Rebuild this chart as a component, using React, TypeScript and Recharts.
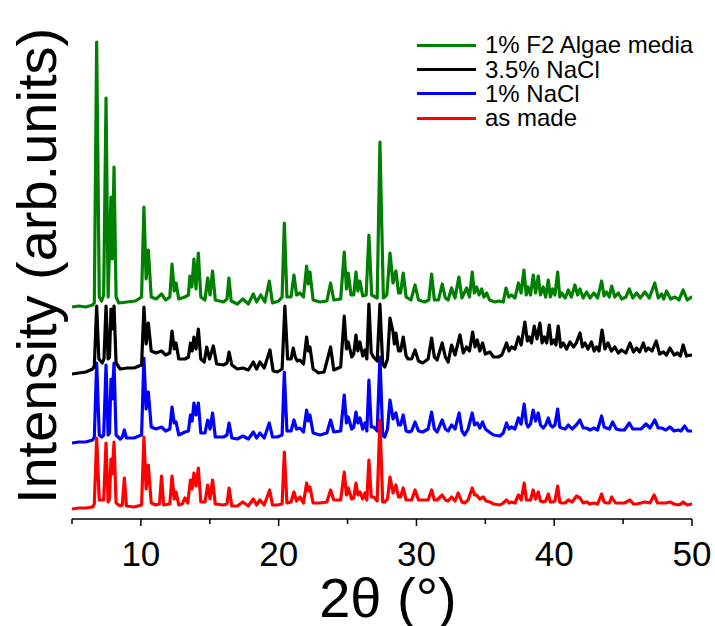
import React from "react";
import { LineChart, Line, XAxis, YAxis, Label } from "recharts";

// 2θ (degrees) vs intensity (arb. units)
const AS_MADE: [number, number][] = [
  [5.0,10],[5.5,11],[6.0,11],[6.5,12],[6.62,15],[6.79,81],[6.98,19],[7.3,19],[7.47,76],[7.62,17],[7.72,20],[7.83,60],[7.92,45],[8.05,77],[8.2,16],[8.5,13],[8.65,14],[8.8,41],[8.95,13],[9.5,12],
  [10.05,14],[10.22,82],[10.38,30],[10.54,54],[10.75,16],[11.1,14],[11.35,15],[11.5,43],[11.65,14],[12.1,15],[12.26,43],[12.42,20],[12.55,27],[12.75,14],[13.0,15],[13.2,21],[13.4,16],[13.6,39],[13.72,30],[13.85,46],[14.0,33],[14.17,51],[14.35,17],[14.65,17],[14.85,34],[15.02,20],[15.2,39],[15.4,15],
  [16.0,14],[16.25,15],[16.4,31],[16.6,13],[17.0,13],[17.4,17],[17.8,13],[18.16,20],[18.4,14],[18.64,19],[18.95,14],[19.35,29],[19.55,14],[19.9,14],[20.25,15],[20.41,67],[20.6,16],[20.9,17],[21.11,27],[21.3,18],[21.55,22],[21.8,16],[22.03,36],[22.15,28],[22.27,32],[22.5,16],[23.0,16],[23.5,17],[23.77,29],[24.0,19],[24.5,19],
  [24.76,47],[24.92,24],[25.05,31],[25.3,20],[25.45,21],[25.61,36],[25.75,24],[25.9,27],[26.1,20],[26.26,26],[26.4,19],[26.55,59],[26.72,22],[26.9,22],[27.15,18],[27.35,99],[27.55,17],[27.7,17],[27.9,20],[28.08,42],[28.3,26],[28.51,34],[28.7,22],[28.85,22],[29.04,31],[29.25,19],[29.45,19],[29.65,19],[29.9,29],[30.15,19],[30.45,19],[30.85,19],
  [31.1,29],[31.3,19],[31.5,19],[31.87,24],[32.1,19],[32.3,18],[32.55,22],[32.8,18],[33.03,26],[33.3,17],[33.5,16],[33.75,19],[34.05,31],[34.22,24],[34.37,24],[34.6,20],[34.85,22],[35.05,18],[35.33,17],[35.6,15],[36.06,14],[36.3,16],[36.54,19],[36.72,16],[36.9,17],[37.15,16],[37.4,24],[37.6,19],[37.82,36],[37.98,19],
  [38.1,19],[38.28,19],[38.47,29],[38.65,20],[38.84,27],[39.0,18],[39.2,17],[39.38,18],[39.57,25],[39.72,17],[39.88,17],[40.05,18],[40.25,33],[40.4,17],[40.54,16],[40.8,16],[41.02,19],[41.3,17],[41.62,23],[41.87,21],[42.1,16],[42.35,17],[42.6,15],[42.88,16],[43.15,15],[43.44,25],[43.62,17],[43.8,16],[44.0,16],[44.17,22],
  [44.45,16],[44.77,16],[45.1,16],[45.5,19],[45.75,15],[45.98,15],[46.3,16],[46.58,17],[46.95,16],[47.25,24],[47.5,16],[47.8,16],[48.1,16],[48.4,17],[48.7,15],[49.0,14],[49.2,15],[49.36,17],[49.65,14],[49.97,15],[50.0,15],
];

const NACL_1: [number, number][] = [
  [5.0,6],[5.5,7],[6.0,7],[6.5,9],[6.62,12],[6.79,86],[6.98,14],[7.15,12],[7.3,14],[7.47,84],[7.62,14],[7.72,16],[7.83,70],[7.92,50],[8.05,86],[8.2,14],[8.5,10],[8.65,12],[8.8,19],[8.95,11],[9.5,11],
  [10.05,14],[10.22,91],[10.38,40],[10.54,57],[10.75,22],[11.1,20],[11.5,22],[11.8,18],[12.1,20],[12.26,42],[12.42,26],[12.55,27],[12.75,14],[13.2,17],[13.45,18],[13.6,34],[13.72,28],[13.85,46],[14.0,34],[14.17,46],[14.35,16],[14.65,16],[14.85,29],[15.02,20],[15.2,36],[15.4,12],
  [16.0,12],[16.25,14],[16.4,26],[16.6,11],[17.0,10],[17.4,13],[17.8,10],[18.16,17],[18.4,11],[18.64,16],[18.95,11],[19.32,26],[19.55,12],[19.9,12],[20.25,14],[20.41,77],[20.6,18],[20.9,18],[21.11,29],[21.3,20],[21.55,21],[21.8,17],[22.03,39],[22.15,28],[22.27,34],[22.5,16],[23.0,14],[23.5,16],[23.77,29],[24.0,17],[24.5,18],
  [24.76,54],[24.92,26],[25.05,32],[25.3,20],[25.45,22],[25.61,37],[25.75,26],[25.9,31],[26.1,20],[26.26,26],[26.4,18],[26.55,69],[26.72,22],[26.9,22],[27.15,18],[27.35,92],[27.55,14],[27.7,12],[27.9,20],[28.08,49],[28.3,30],[28.51,36],[28.7,24],[28.85,24],[29.04,34],[29.25,18],[29.45,17],[29.65,18],[29.9,27],[30.15,18],[30.45,17],[30.85,20],
  [31.1,37],[31.3,20],[31.5,17],[31.87,29],[32.1,20],[32.3,18],[32.55,24],[32.8,20],[33.1,36],[33.3,18],[33.5,14],[33.75,20],[34.05,36],[34.22,24],[34.42,26],[34.6,21],[34.8,27],[35.0,20],[35.28,17],[35.6,14],[36.06,13],[36.3,16],[36.54,26],[36.72,20],[36.9,22],[37.15,20],[37.4,31],[37.6,25],[37.82,45],[37.98,26],
  [38.1,22],[38.28,25],[38.47,39],[38.65,28],[38.84,36],[39.0,24],[39.2,21],[39.38,24],[39.57,31],[39.72,24],[39.88,22],[40.05,24],[40.25,40],[40.4,22],[40.54,21],[40.8,20],[41.02,24],[41.3,20],[41.6,24],[41.87,29],[42.1,21],[42.35,21],[42.6,19],[42.88,21],[43.15,19],[43.44,33],[43.62,22],[43.8,21],[44.0,20],[44.24,27],
  [44.5,20],[44.77,19],[45.1,19],[45.45,26],[45.7,20],[45.98,20],[46.3,20],[46.66,25],[46.95,21],[47.3,29],[47.55,21],[47.8,21],[48.1,19],[48.4,22],[48.7,18],[49.0,19],[49.2,18],[49.47,23],[49.7,18],[49.97,18],[50.0,19],
];

const NACL_35: [number, number][] = [
  [5.0,5],[5.5,6],[6.0,7],[6.5,10],[6.62,13],[6.79,73],[6.95,20],[7.2,16],[7.32,20],[7.47,73],[7.62,20],[7.72,22],[7.83,70],[7.92,50],[8.05,73],[8.2,16],[8.5,10],[9.0,11],[9.5,11],
  [10.05,14],[10.22,72],[10.38,35],[10.54,56],[10.75,28],[11.1,26],[11.5,28],[11.8,24],[12.1,26],[12.26,48],[12.42,30],[12.55,36],[12.75,20],[13.2,20],[13.45,22],[13.6,36],[13.72,28],[13.85,42],[14.0,30],[14.17,50],[14.35,20],[14.6,17],[14.78,32],[14.98,20],[15.26,33],[15.5,15],
  [16.0,14],[16.25,16],[16.4,27],[16.6,14],[17.0,10],[17.4,11],[17.8,9],[18.16,17],[18.4,10],[18.64,17],[18.95,11],[19.37,29],[19.6,8],[19.9,7],[20.25,10],[20.45,73],[20.65,20],[20.9,20],[21.06,31],[21.2,22],[21.35,18],[21.55,19],[21.8,15],[22.03,42],[22.15,28],[22.27,32],[22.5,10],[22.9,6],[23.3,7],[23.77,32],[24.0,9],[24.5,12],
  [24.76,63],[24.92,30],[25.05,37],[25.3,22],[25.45,25],[25.61,44],[25.75,28],[25.9,37],[26.1,23],[26.26,29],[26.4,20],[26.55,75],[26.72,26],[26.88,22],[27.15,18],[27.35,75],[27.55,15],[27.7,12],[27.9,20],[28.08,61],[28.3,47],[28.4,35],[28.51,46],[28.7,28],[28.85,28],[29.04,42],[29.25,23],[29.4,20],[29.65,20],[29.9,29],[30.15,18],[30.45,16],[30.85,20],
  [31.1,41],[31.3,22],[31.5,19],[31.87,36],[32.1,22],[32.3,17],[32.55,34],[32.8,24],[33.16,44],[33.4,26],[33.64,32],[33.85,28],[34.08,47],[34.25,32],[34.42,39],[34.6,28],[34.8,36],[35.0,25],[35.33,27],[35.6,22],[35.94,22],[36.2,24],[36.54,36],[36.72,28],[36.9,32],[37.15,30],[37.4,42],[37.6,34],[37.87,57],[38.05,38],
  [38.19,42],[38.35,36],[38.55,53],[38.75,40],[38.96,56],[39.12,36],[39.28,42],[39.45,36],[39.64,54],[39.8,35],[39.98,39],[40.12,34],[40.29,53],[40.47,32],[40.66,36],[40.9,30],[41.14,37],[41.4,32],[41.6,36],[41.87,46],[42.05,32],[42.23,36],[42.45,30],[42.7,37],[42.9,28],[43.07,32],[43.25,28],[43.47,49],[43.68,30],[43.9,36],
  [44.15,28],[44.4,32],[44.65,26],[44.88,29],[45.2,26],[45.5,36],[45.75,27],[45.98,31],[46.2,27],[46.47,36],[46.65,28],[46.83,31],[47.1,28],[47.4,38],[47.65,25],[47.93,27],[48.15,24],[48.4,31],[48.7,24],[48.95,26],[49.15,23],[49.36,34],[49.6,23],[49.9,24],[50.0,23],
];

const F2_ALGAE: [number, number][] = [
  [5.0,7],[5.5,8],[6.0,7],[6.5,9],[6.62,11],[6.79,272],[6.98,17],[7.15,13],[7.3,19],[7.47,216],[7.62,17],[7.83,117],[7.92,55],[8.05,147],[8.2,17],[8.4,11],[9.0,12],[9.6,13],
  [10.05,17],[10.22,107],[10.38,35],[10.54,64],[10.75,17],[11.1,15],[11.5,20],[11.8,14],[12.1,17],[12.26,50],[12.42,23],[12.55,31],[12.75,15],[13.2,17],[13.45,19],[13.56,38],[13.7,27],[13.85,55],[14.0,25],[14.17,61],[14.35,17],[14.65,14],[14.85,36],[15.02,19],[15.2,43],[15.4,14],
  [16.0,12],[16.25,15],[16.39,36],[16.55,13],[17.0,10],[17.4,15],[17.8,10],[18.16,20],[18.4,12],[18.7,19],[19.0,12],[19.32,33],[19.55,11],[20.0,13],[20.25,17],[20.41,91],[20.6,17],[20.9,17],[21.11,39],[21.3,19],[21.55,21],[21.8,17],[22.03,48],[22.15,30],[22.27,42],[22.5,14],[23.0,12],[23.5,13],[23.77,31],[24.0,14],[24.5,15],
  [24.76,62],[24.92,25],[25.05,41],[25.25,19],[25.45,19],[25.61,42],[25.75,23],[25.9,33],[26.1,18],[26.35,19],[26.55,79],[26.75,19],[27.15,16],[27.35,172],[27.6,16],[27.85,19],[28.08,61],[28.3,31],[28.51,43],[28.7,21],[28.85,21],[29.04,41],[29.25,17],[29.6,14],[29.9,29],[30.15,14],[30.6,12],[30.9,14],
  [31.1,40],[31.3,14],[31.6,14],[31.87,30],[32.1,16],[32.3,14],[32.55,26],[32.8,16],[33.08,37],[33.3,16],[33.64,26],[33.85,17],[34.05,42],[34.2,21],[34.37,27],[34.55,19],[34.73,25],[34.9,17],[35.1,21],[35.3,14],[35.7,12],[36.0,13],[36.3,12],[36.5,26],[36.7,17],[36.9,19],[37.15,16],[37.4,31],[37.6,21],[37.8,44],[37.97,19],
  [38.1,27],[38.28,19],[38.48,39],[38.65,21],[38.84,38],[39.0,19],[39.2,27],[39.38,17],[39.57,34],[39.72,17],[39.88,25],[40.05,19],[40.25,42],[40.4,17],[40.54,21],[40.8,16],[41.02,24],[41.25,17],[41.5,29],[41.7,19],[41.87,25],[42.1,16],[42.35,22],[42.6,16],[42.88,21],[43.15,16],[43.44,33],[43.62,18],[43.8,22],[44.0,17],[44.17,28],
  [44.4,17],[44.65,21],[44.9,15],[45.2,17],[45.45,25],[45.7,16],[45.98,21],[46.25,16],[46.58,22],[46.9,16],[47.3,31],[47.55,16],[47.79,20],[47.95,15],[48.15,23],[48.45,15],[48.76,17],[49.05,14],[49.36,24],[49.65,14],[49.97,17],[50.0,17],
];

const X_TICKS = [5, 10, 15, 20, 25, 30, 35, 40, 45, 50];

// vertical stacking offsets used to separate the patterns
const SERIES = [
  { key: "nacl1", name: "1% NaCl", data: NACL_1, offset: 70, color: "#0000ff" },
  { key: "asmade", name: "as made", data: AS_MADE, offset: 0, color: "#ff0000" },
  { key: "nacl35", name: "3.5% NaCl", data: NACL_35, offset: 140, color: "#000000" },
  { key: "f2", name: "1% F2 Algae media", data: F2_ALGAE, offset: 205, color: "#008000" },
];
const LEGEND_ORDER = ["f2", "nacl35", "nacl1", "asmade"];

const FONT = "'Liberation Sans', Arial, sans-serif";

const XTick = (props: any) => {
  const { x, y, payload } = props;
  const major = payload.value % 10 === 0;
  return (
    <g>
      <line x1={x} x2={x} y1={y} y2={y + (major ? 7 : 5)} stroke="#000" strokeWidth={1.5} />
      {major && (
        <text x={x} y={y + 47} textAnchor="middle" fontSize={35} fontFamily={FONT} fill="#000">
          {payload.value}
        </text>
      )}
    </g>
  );
};

const AxisTitles = () => (
  <g>
    <text x={388} y={617} textAnchor="middle" fontSize={56} fontFamily={FONT} fill="#000">
      2θ (°)
    </text>
    <text
      x={56}
      y={266}
      transform="rotate(-90 56 266)"
      textAnchor="middle"
      fontSize={56}
      fontFamily={FONT}
      fill="#000"
    >
      Intensity (arb.units)
    </text>
  </g>
);

const ChartLegend = () => (
  <div
    style={{
      position: "absolute",
      left: 417,
      top: 33,
      fontFamily: FONT,
      fontSize: 24,
      color: "#000",
    }}
  >
    {LEGEND_ORDER.map((k) => {
      const s = SERIES.find((q) => q.key === k)!;
      return (
        <div key={k} style={{ display: "flex", alignItems: "center", height: 24.4, whiteSpace: "nowrap" }}>
          <div style={{ width: 59, height: 3, background: s.color, marginRight: 9 }} />
          <span style={{ lineHeight: "24px" }}>{s.name}</span>
        </div>
      );
    })}
  </div>
);

export default function App() {
  return (
    <div style={{ position: "absolute", left: 0, top: 0, width: 715, height: 626, background: "#fff" }}>
      <LineChart width={715} height={626} margin={{ top: 15, right: 23, bottom: 47, left: 72 }}>
        <XAxis
          type="number"
          dataKey="x"
          domain={[5, 50]}
          ticks={X_TICKS}
          allowDataOverflow
          height={60}
          tickSize={0}
          tickMargin={0}
          tickLine={false}
          tick={<XTick />}
          axisLine={{ stroke: "#000", strokeWidth: 1.5 }}
          interval={0}
        >
          <Label content={() => <AxisTitles />} />
        </XAxis>
        <YAxis
          type="number"
          dataKey="y"
          domain={[0, 504]}
          width={0}
          tick={false}
          tickLine={false}
          axisLine={{ stroke: "#000", strokeWidth: 1.5 }}
          allowDataOverflow
        />
        {SERIES.map((s) => (
          <Line
            key={s.key}
            name={s.name}
            data={s.data.map(([x, v]) => ({ x, y: v + s.offset }))}
            dataKey="y"
            type="linear"
            stroke={s.color}
            strokeWidth={3.2}
            dot={false}
            activeDot={false}
            isAnimationActive={false}
            strokeLinejoin="round"
          />
        ))}
      </LineChart>
      <ChartLegend />
    </div>
  );
}
